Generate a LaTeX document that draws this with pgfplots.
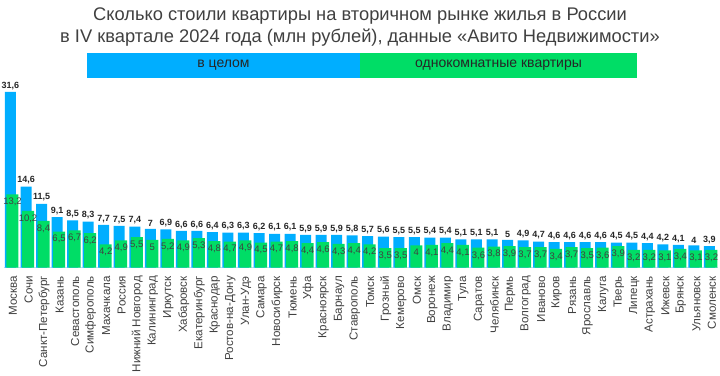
\documentclass[border=0pt]{standalone}
\usepackage{fontspec}
\setmainfont{Liberation Sans}
\usepackage{pgfplots}
\usepackage{pgfplotstable}
\pgfplotsset{compat=1.18}
\definecolor{cblue}{HTML}{00AEFF}
\definecolor{cgreen}{HTML}{00DD66}
\definecolor{tgray}{HTML}{404040}
\definecolor{tdark}{HTML}{262626}
\definecolor{lineblue}{HTML}{BFDDEE}

\pgfplotstableread{
x total one
0 31.6 13.2
1 14.6 10.2
2 11.5 8.4
3 9.1 6.5
4 8.5 6.7
5 8.3 6.2
6 7.7 4.2
7 7.5 4.9
8 7.4 5.5
9 7 5
10 6.9 5.2
11 6.6 4.9
12 6.6 5.3
13 6.4 4.8
14 6.3 4.7
15 6.3 4.9
16 6.2 4.5
17 6.1 4.7
18 6.1 4.8
19 5.9 4.4
20 5.9 4.6
21 5.9 4.3
22 5.8 4.4
23 5.7 4.2
24 5.6 3.5
25 5.5 3.5
26 5.5 4
27 5.4 4.1
28 5.4 4.4
29 5.1 4.1
30 5.1 3.6
31 5.1 3.8
32 5 3.9
33 4.9 3.7
34 4.7 3.7
35 4.6 3.4
36 4.6 3.7
37 4.6 3.5
38 4.6 3.6
39 4.5 3.9
40 4.5 3.2
41 4.4 3.2
42 4.2 3.1
43 4.1 3.4
44 4 3.1
45 3.9 3.2
}\data

\begin{document}
\begin{tikzpicture}
\path[use as bounding box] (0,0) rectangle (720pt,375pt);
\node[font=\fontsize{18.3}{22.5}\selectfont, text=tgray, align=center] at (360pt,348pt)
  {Сколько стоили квартиры на вторичном рынке жилья в России\\в IV квартале 2024 года (млн рублей), данные «Авито Недвижимости»};
\fill[cblue] (87pt,297pt) rectangle (360pt,322pt);
\fill[cgreen] (360pt,297pt) rectangle (637pt,322pt);
\node[font=\fontsize{14}{15}\selectfont, text=tdark] at (223.5pt,309.5pt) {в целом};
\node[font=\fontsize{14}{15}\selectfont, text=tdark] at (498.5pt,309.5pt) {однокомнатные квартиры};
\begin{axis}[
  at={(3.73pt,107.3pt)}, anchor=south west,
  scale only axis, width=714.5pt, height=180pt,
  xmin=-0.5, xmax=45.5, ymin=0, ymax=32.37,
  ybar, clip=false,
  hide y axis,
  axis x line*=bottom,
  x axis line style={-, draw=lineblue, line width=0.8pt},
  xtick=data, xtick style={draw=none},
  xticklabels={Москва, Сочи, Санкт-Петербург, Казань, Севастополь, Симферополь, Махачкала, Россия, Нижний Новгород, Калининград, Иркутск, Хабаровск, Екатеринбург, Краснодар, Ростов-на-Дону, Улан-Удэ, Самара, Новосибирск, Тюмень, Уфа, Красноярск, Барнаул, Ставрополь, Томск, Грозный, Кемерово, Омск, Воронеж, Владимир, Тула, Саратов, Челябинск, Пермь, Волгоград, Иваново, Киров, Рязань, Ярославль, Калуга, Тверь, Липецк, Астрахань, Ижевск, Брянск, Ульяновск, Смоленск},
  xticklabel style={xshift=1.5pt, rotate=90, anchor=east, font=\fontsize{11.6}{13}\selectfont, text=tgray, inner sep=2pt},
  xticklabel shift=2pt,
  /pgf/number format/use comma,
  /pgf/number format/fixed,
  /pgf/number format/precision=1,
  /pgf/number format/assume math mode=true,
]
\addplot[fill=cblue, draw=none, bar width=11pt, bar shift=-1pt,
  nodes near coords,
  every node near coord/.append style={font=\bfseries\fontsize{9}{10}\selectfont, text=tdark, anchor=south, inner sep=2.2pt}]
  table[x=x, y=total]{\data};
\addplot[fill=cgreen, draw=none, bar width=12pt, bar shift=1pt,
  nodes near coords,
  every node near coord/.append style={font=\fontsize{9.5}{10}\selectfont, text=tgray, anchor=north, inner sep=2pt, yshift=-1.5pt}]
  table[x=x, y=one]{\data};
\end{axis}
\end{tikzpicture}
\end{document}
